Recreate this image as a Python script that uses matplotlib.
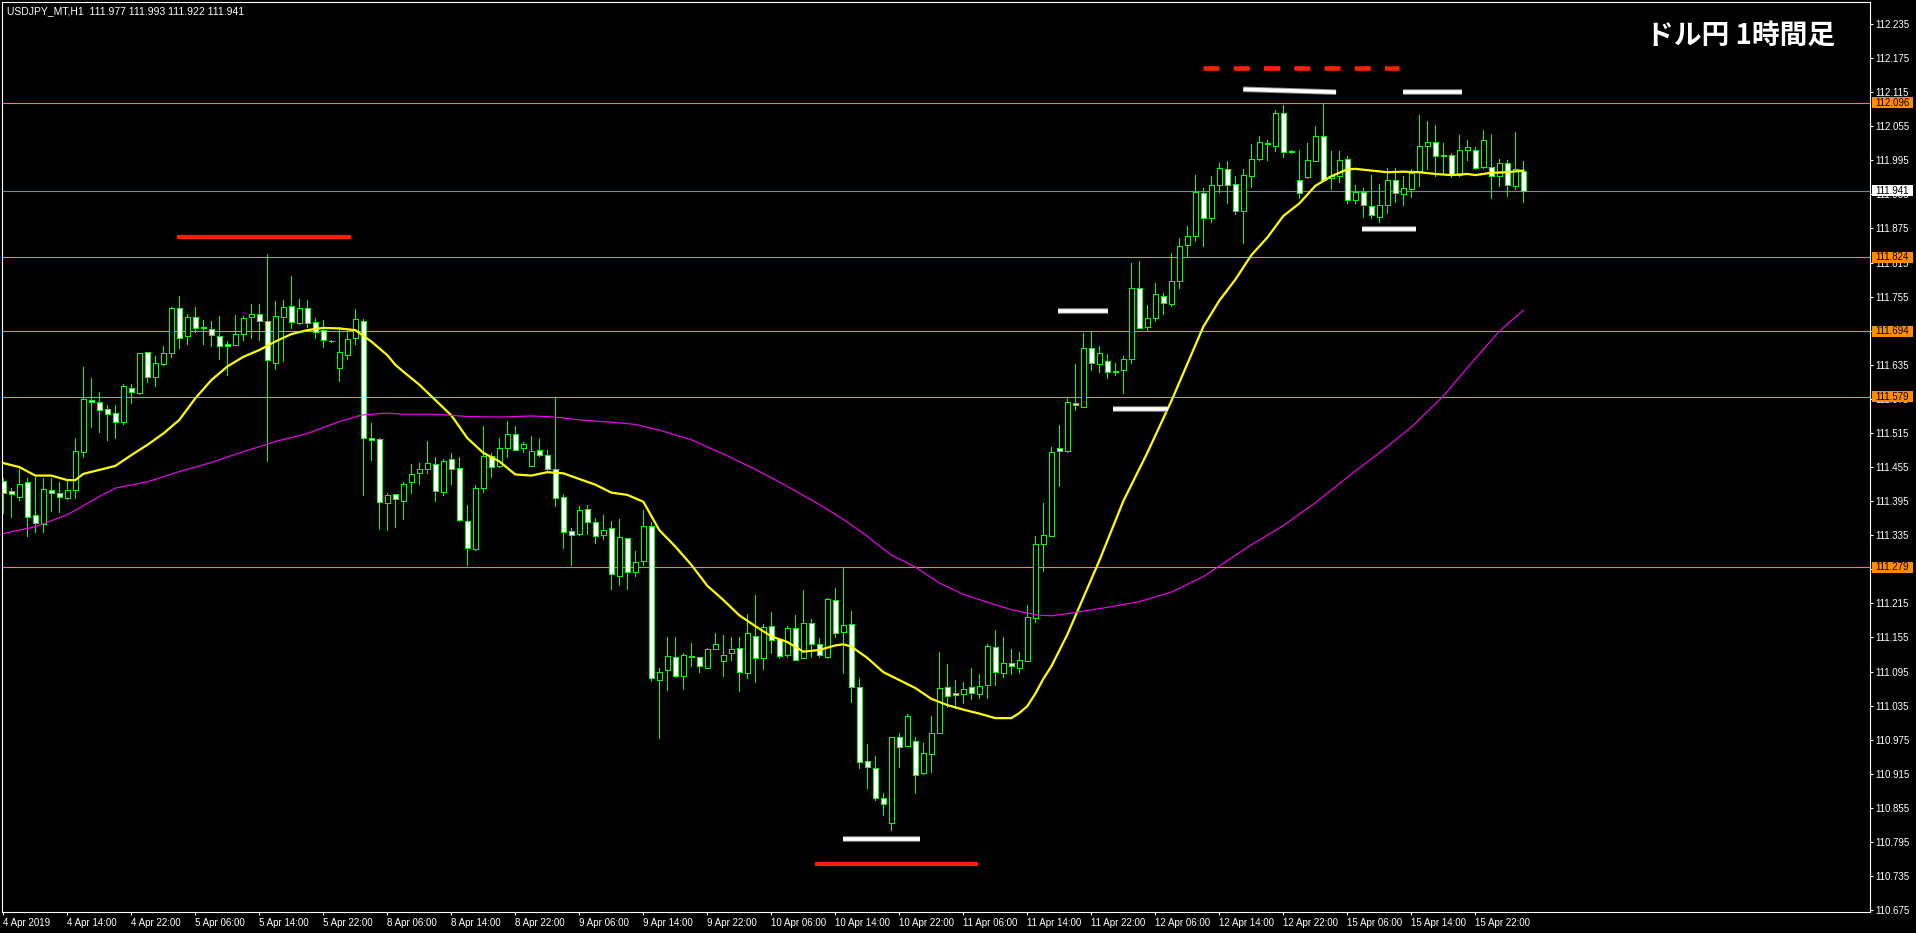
import matplotlib.pyplot as plt
import matplotlib.transforms as mtransforms
from matplotlib.patches import Rectangle
import numpy as np

# USDJPY H1 bars, 4 Apr 06:00 .. 16 Apr 04:00
opens = [111.431, 111.412, 111.403, 111.428, 111.370, 111.354, 111.414, 111.409, 111.401, 111.414,
         111.482, 111.573, 111.569, 111.557, 111.550, 111.534, 111.595, 111.585, 111.657, 111.614,
         111.637, 111.655, 111.735, 111.685, 111.719, 111.701, 111.698, 111.685, 111.671, 111.669,
         111.689, 111.719, 111.724, 111.713, 111.639, 111.719, 111.738, 111.708, 111.735, 111.710,
         111.696, 111.677, 111.629, 111.652, 111.682, 111.713, 111.506, 111.504, 111.392, 111.407,
         111.396, 111.428, 111.444, 111.451, 111.460, 111.411, 111.469, 111.453, 111.360, 111.310,
         111.418, 111.474, 111.456, 111.488, 111.513, 111.488, 111.456, 111.485, 111.477, 111.451,
         111.402, 111.342, 111.338, 111.381, 111.358, 111.335, 111.347, 111.263, 111.330, 111.271,
         111.289, 111.351, 111.081, 111.097, 111.121, 111.088, 111.123, 111.121, 111.102, 111.135,
         111.113, 111.127, 111.137, 111.093, 111.158, 111.118, 111.176, 111.153, 111.125, 111.171,
         111.118, 111.181, 111.143, 111.121, 111.221, 111.164, 111.179, 111.068, 110.937, 110.926,
         110.873, 110.829, 110.980, 110.964, 110.973, 110.916, 110.950, 110.987, 111.068, 111.058,
         111.055, 111.068, 111.055, 111.071, 111.138, 111.092, 111.110, 111.102, 111.113, 111.190,
         111.320, 111.334, 111.488, 111.483, 111.568, 111.561, 111.665, 111.637, 111.642, 111.624,
         111.626, 111.646, 111.771, 111.701, 111.718, 111.757, 111.742, 111.783, 111.846, 111.861,
         111.937, 111.894, 111.951, 111.979, 111.954, 111.905, 111.968, 111.998, 112.026, 112.021,
         112.079, 112.012, 111.960, 111.965, 111.993, 112.037, 111.963, 111.968, 111.997, 111.926,
         111.940, 111.914, 111.896, 111.917, 111.961, 111.935, 111.945, 111.977, 112.021, 112.028,
         112.004, 112.005, 111.970, 112.014, 112.014, 111.984, 111.984, 111.968, 111.991, 111.949,
         111.977]
highs = [111.435, 111.418, 111.451, 111.435, 111.438, 111.435, 111.435, 111.428, 111.431, 111.506,
         111.631, 111.611, 111.587, 111.564, 111.564, 111.602, 111.601, 111.656, 111.658, 111.651,
         111.668, 111.736, 111.756, 111.725, 111.736, 111.714, 111.712, 111.721, 111.677, 111.723,
         111.721, 111.742, 111.742, 111.830, 111.747, 111.749, 111.791, 111.751, 111.749, 111.717,
         111.714, 111.679, 111.702, 111.699, 111.733, 111.716, 111.532, 111.506, 111.410, 111.407,
         111.429, 111.460, 111.463, 111.500, 111.472, 111.470, 111.479, 111.472, 111.389, 111.423,
         111.527, 111.479, 111.507, 111.536, 111.527, 111.499, 111.509, 111.507, 111.485, 111.578,
         111.407, 111.347, 111.386, 111.388, 111.365, 111.370, 111.360, 111.363, 111.330, 111.308,
         111.379, 111.358, 111.102, 111.155, 111.155, 111.128, 111.146, 111.121, 111.137, 111.162,
         111.160, 111.155, 111.155, 111.197, 111.229, 111.179, 111.199, 111.153, 111.176, 111.194,
         111.238, 111.188, 111.154, 111.224, 111.242, 111.277, 111.202, 111.084, 110.967, 110.947,
         110.882, 110.980, 110.986, 111.021, 110.980, 110.970, 111.016, 111.130, 111.108, 111.080,
         111.077, 111.102, 111.090, 111.144, 111.169, 111.156, 111.135, 111.130, 111.213, 111.334,
         111.392, 111.490, 111.529, 111.578, 111.637, 111.691, 111.694, 111.668, 111.654, 111.639,
         111.650, 111.814, 111.817, 111.740, 111.779, 111.762, 111.831, 111.859, 111.879, 111.969,
         111.946, 111.967, 111.991, 111.993, 111.968, 111.979, 112.023, 112.037, 112.030, 112.083,
         112.092, 112.014, 112.014, 112.025, 112.055, 112.095, 112.012, 112.012, 112.002, 111.951,
         111.947, 111.970, 111.954, 111.981, 111.981, 111.967, 111.979, 112.074, 112.065, 112.058,
         112.025, 112.007, 112.039, 112.030, 112.019, 112.048, 112.042, 111.998, 111.996, 112.044,
         111.993]
lows = [111.374, 111.367, 111.397, 111.334, 111.340, 111.341, 111.378, 111.375, 111.398, 111.401,
        111.473, 111.526, 111.517, 111.502, 111.507, 111.531, 111.568, 111.584, 111.604, 111.597,
        111.635, 111.648, 111.665, 111.672, 111.693, 111.672, 111.668, 111.646, 111.617, 111.669,
        111.679, 111.683, 111.678, 111.466, 111.628, 111.642, 111.699, 111.707, 111.701, 111.682,
        111.667, 111.676, 111.607, 111.645, 111.671, 111.405, 111.467, 111.346, 111.344, 111.350,
        111.364, 111.410, 111.426, 111.444, 111.395, 111.406, 111.426, 111.360, 111.283, 111.309,
        111.411, 111.438, 111.455, 111.472, 111.485, 111.481, 111.456, 111.474, 111.450, 111.387,
        111.312, 111.282, 111.335, 111.337, 111.321, 111.328, 111.240, 111.247, 111.240, 111.264,
        111.282, 111.079, 110.978, 111.063, 111.086, 111.064, 111.104, 111.095, 111.102, 111.134,
        111.088, 111.116, 111.060, 111.083, 111.077, 111.100, 111.128, 111.118, 111.121, 111.115,
        111.118, 111.121, 111.121, 111.119, 111.156, 111.092, 111.042, 110.925, 110.890, 110.868,
        110.843, 110.816, 110.927, 110.964, 110.881, 110.915, 110.918, 110.987, 111.033, 111.031,
        111.040, 111.046, 111.049, 111.049, 111.072, 111.086, 111.090, 111.092, 111.113, 111.183,
        111.272, 111.334, 111.421, 111.482, 111.556, 111.561, 111.626, 111.623, 111.612, 111.617,
        111.586, 111.638, 111.699, 111.696, 111.713, 111.724, 111.738, 111.771, 111.826, 111.853,
        111.844, 111.886, 111.940, 111.920, 111.901, 111.850, 111.948, 111.995, 111.995, 112.012,
        112.000, 112.007, 111.928, 111.963, 111.993, 111.958, 111.944, 111.956, 111.919, 111.919,
        111.896, 111.894, 111.886, 111.903, 111.921, 111.916, 111.930, 111.949, 111.979, 111.967,
        111.972, 111.965, 111.968, 111.995, 111.979, 111.982, 111.928, 111.949, 111.933, 111.944,
        111.922]
closes = [111.410, 111.407, 111.426, 111.367, 111.356, 111.416, 111.410, 111.403, 111.414, 111.483,
          111.574, 111.569, 111.555, 111.548, 111.534, 111.597, 111.587, 111.655, 111.613, 111.638,
          111.655, 111.735, 111.682, 111.719, 111.699, 111.699, 111.687, 111.668, 111.668, 111.689,
          111.717, 111.724, 111.712, 111.643, 111.721, 111.736, 111.710, 111.735, 111.708, 111.692,
          111.678, 111.677, 111.657, 111.680, 111.715, 111.507, 111.503, 111.394, 111.406, 111.398,
          111.425, 111.442, 111.451, 111.462, 111.412, 111.465, 111.451, 111.361, 111.312, 111.418,
          111.474, 111.455, 111.488, 111.514, 111.485, 111.495, 111.483, 111.476, 111.451, 111.400,
          111.340, 111.335, 111.379, 111.358, 111.333, 111.344, 111.266, 111.331, 111.270, 111.287,
          111.352, 111.083, 111.095, 111.123, 111.088, 111.125, 111.120, 111.104, 111.134, 111.143,
          111.125, 111.134, 111.095, 111.162, 111.118, 111.174, 111.150, 111.123, 111.172, 111.116,
          111.181, 111.143, 111.124, 111.223, 111.163, 111.177, 111.067, 110.935, 110.927, 110.873,
          110.862, 110.979, 110.962, 111.017, 110.913, 110.951, 110.987, 111.066, 111.052, 111.053,
          111.065, 111.058, 111.070, 111.140, 111.094, 111.110, 111.105, 111.116, 111.191, 111.320,
          111.335, 111.482, 111.483, 111.570, 111.564, 111.664, 111.639, 111.656, 111.622, 111.623,
          111.646, 111.771, 111.700, 111.717, 111.759, 111.744, 111.783, 111.845, 111.861, 111.939,
          111.893, 111.951, 111.981, 111.951, 111.905, 111.970, 111.998, 112.028, 112.023, 112.079,
          112.009, 112.009, 111.938, 111.995, 112.037, 111.961, 111.968, 111.995, 111.926, 111.940,
          111.916, 111.898, 111.917, 111.961, 111.937, 111.947, 111.972, 112.021, 112.028, 112.002,
          112.003, 111.970, 112.014, 112.018, 111.982, 112.030, 111.968, 111.991, 111.951, 111.979,
          111.941]

# moving averages, read at selected bars
fast_ma_bars = [0, 2, 4, 6, 8, 9, 10, 12, 14, 16, 18, 20, 22, 24, 26, 28, 30, 32, 34, 36, 38, 40,
                42, 44, 46, 48, 49, 50, 52, 54, 56, 58, 60, 62, 64, 66, 68, 70, 72, 74, 76, 78, 80,
                82, 84, 86, 88, 90, 92, 94, 96, 98, 100, 102, 104, 105, 106, 108, 110, 112, 114,
                116, 118, 120, 122, 124, 126, 127, 128, 129, 130, 131, 133, 137, 140, 143, 146,
                150, 152, 154, 156, 158, 160, 162, 164, 166, 168, 169, 171, 173, 175, 177, 179,
                181, 183, 184, 186, 188, 190]
fast_ma = [111.462, 111.455, 111.440, 111.440, 111.432, 111.432, 111.443, 111.450, 111.457, 111.476,
           111.494, 111.514, 111.538, 111.576, 111.608, 111.632, 111.649, 111.661, 111.676, 111.689,
           111.696, 111.700, 111.699, 111.696, 111.676, 111.652, 111.635, 111.623, 111.600, 111.573,
           111.546, 111.506, 111.480, 111.465, 111.442, 111.440, 111.446, 111.444, 111.434, 111.424,
           111.410, 111.406, 111.394, 111.344, 111.315, 111.283, 111.246, 111.221, 111.194, 111.175,
           111.157, 111.147, 111.130, 111.133, 111.141, 111.143, 111.139, 111.119, 111.094, 111.080,
           111.066, 111.047, 111.036, 111.028, 111.021, 111.013, 111.013, 111.022, 111.034, 111.056,
           111.082, 111.104, 111.160, 111.290, 111.395, 111.480, 111.571, 111.702, 111.748, 111.785,
           111.828, 111.859, 111.897, 111.919, 111.950, 111.967, 111.979, 111.980, 111.977, 111.974,
           111.975, 111.974, 111.971, 111.969, 111.971, 111.969, 111.973, 111.974, 111.977]
slow_ma_bars = [0, 4, 8, 12, 14, 18, 22, 26, 30, 34, 38, 42, 45, 48, 50, 54, 58, 62, 66, 69, 72,
                76, 79, 82, 86, 90, 94, 98, 102, 105, 108, 111, 114, 117, 120, 123, 126, 129, 131,
                134, 138, 142, 146, 150, 153, 156, 160, 164, 168, 172, 176, 180, 184, 187, 190]
slow_ma = [111.338, 111.350, 111.371, 111.403, 111.418, 111.429, 111.447, 111.463, 111.482, 111.500,
           111.514, 111.535, 111.547, 111.550, 111.548, 111.548, 111.544, 111.543, 111.545, 111.543,
           111.538, 111.534, 111.530, 111.520, 111.503, 111.478, 111.451, 111.421, 111.389, 111.363,
           111.333, 111.300, 111.279, 111.251, 111.231, 111.217, 111.204, 111.195, 111.193, 111.199,
           111.208, 111.218, 111.235, 111.262, 111.290, 111.318, 111.352, 111.392, 111.437, 111.480,
           111.525, 111.580, 111.646, 111.694, 111.731]

level_prices = [112.096, 111.824, 111.694, 111.579, 111.279]
bid_price = 111.941

# drawn objects: (bar_start, bar_end, price_start, price_end)
red_lines = [(21.7, 43.5, 111.860, 111.860), (101.5, 121.9, 110.756, 110.756)]
red_dashed = [(150.0, 174.5, 112.158, 112.158)]
white_lines = [(155.0, 166.6, 112.120, 112.115), (175.0, 182.3, 112.116, 112.116),
               (169.9, 176.6, 111.874, 111.874), (131.9, 138.1, 111.729, 111.729),
               (138.7, 145.6, 111.558, 111.558), (105.0, 114.6, 110.801, 110.801)]

y_ticks = [112.235, 112.175, 112.115, 112.055, 111.995, 111.935, 111.875, 111.815, 111.755,
           111.695, 111.635, 111.575, 111.515, 111.455, 111.395, 111.335, 111.275, 111.215,
           111.155, 111.095, 111.035, 110.975, 110.915, 110.855, 110.795, 110.735, 110.675]
x_tick_bars = list(range(0, 185, 8))
x_tick_labels = ["4 Apr 2019", "4 Apr 14:00", "4 Apr 22:00", "5 Apr 06:00", "5 Apr 14:00",
                 "5 Apr 22:00", "8 Apr 06:00", "8 Apr 14:00", "8 Apr 22:00", "9 Apr 06:00",
                 "9 Apr 14:00", "9 Apr 22:00", "10 Apr 06:00", "10 Apr 14:00", "10 Apr 22:00",
                 "11 Apr 06:00", "11 Apr 14:00", "11 Apr 22:00", "12 Apr 06:00", "12 Apr 14:00",
                 "12 Apr 22:00", "15 Apr 06:00", "15 Apr 14:00", "15 Apr 22:00"]

W, H = 1916, 933
fig = plt.figure(figsize=(W / 100, H / 100), dpi=100, facecolor='black')
ax = fig.add_axes([2 / W, (H - 912) / H, 1868 / W, 910 / H])
ax.set_facecolor('black')

o = np.array(opens)
c = np.array(closes)
x = np.arange(len(o))
green = '#00ff00'

ax.vlines(x, lows, highs, color=green, lw=0.72, zorder=3, antialiased=False)
bull = c >= o
ax.bar(x[bull], (c - o)[bull], bottom=o[bull], width=0.62, facecolor='black',
       edgecolor=green, linewidth=0.72, zorder=4, antialiased=False)
ax.bar(x[~bull], (o - c)[~bull], bottom=c[~bull], width=0.62, facecolor='white',
       edgecolor=green, linewidth=0.72, zorder=4, antialiased=False)

ax.plot(fast_ma_bars, fast_ma, color='#ffff00', lw=1.6, zorder=5)
ax.plot(slow_ma_bars, slow_ma, color='#ff00ff', lw=0.8, zorder=5)

for p in level_prices:
    ax.axhline(p, color='#ff8c00', lw=0.8, zorder=2)
ax.axhline(bid_price, color='#778899', lw=0.8, zorder=2)

for x0, x1, p0, p1 in red_lines:
    ax.plot([x0, x1], [p0, p1], color='#ff1e00', lw=3.0, solid_capstyle='butt', zorder=6)
for x0, x1, p0, p1 in red_dashed:
    ax.plot([x0, x1], [p0, p1], color='#ff1e00', lw=3.3, ls=(0, (3.5, 3.1)),
            dash_capstyle='butt', zorder=6)
for x0, x1, p0, p1 in white_lines:
    ax.plot([x0, x1], [p0, p1], color='#8c8c8c', lw=4.0, solid_capstyle='butt', zorder=6)
    ax.plot([x0, x1], [p0, p1], color='white', lw=2.6, solid_capstyle='butt', zorder=7)

ax.set_xlim(-0.1625, 233.34)
ax.set_ylim(110.6717, 112.2737)

for s in ax.spines.values():
    s.set_color('white')
    s.set_linewidth(0.8)

ax.yaxis.tick_right()
ax.set_yticks(y_ticks)
ax.set_yticklabels(["%.3f" % v for v in y_ticks])
ax.set_xticks(x_tick_bars)
ax.set_xticklabels(x_tick_labels, ha='left')
ax.tick_params(axis='y', colors='white', length=2.5, width=0.8, labelsize=7, pad=1.5)
ax.tick_params(axis='x', colors='white', length=2.5, width=0.8, labelsize=7, pad=1.5)
for lab in ax.get_xticklabels() + ax.get_yticklabels():
    lab.set_fontfamily('Liberation Sans')

# price labels on the right scale
trans = mtransforms.blended_transform_factory(fig.transFigure, ax.transData)
half = 5.5 / 568
for p, fc in [(v, '#ff8c00') for v in level_prices] + [(bid_price, 'white')]:
    ax.add_patch(Rectangle((1872 / W, p - half), 41 / W, 2 * half, transform=trans,
                           facecolor=fc, edgecolor='none', clip_on=False, zorder=10))
    ax.text(1875 / W, p, "%.3f" % p, transform=trans, color='black', fontsize=7,
            family='Liberation Sans', va='center', ha='left', clip_on=False, zorder=11)

fig.text(7 / W, 1 - 11 / H, "USDJPY_MT,H1  111.977 111.993 111.922 111.941", color='white',
         fontsize=7.5, family='Liberation Sans', va='center', ha='left')
fig.text(1835 / W, 1 - 36 / H, "ドル円 1時間足", color='white', fontsize=20, fontweight='bold',
         family=['Noto Sans CJK JP', 'DejaVu Sans'], va='center', ha='right')

fig.savefig('out.png', dpi=100, facecolor='black')
